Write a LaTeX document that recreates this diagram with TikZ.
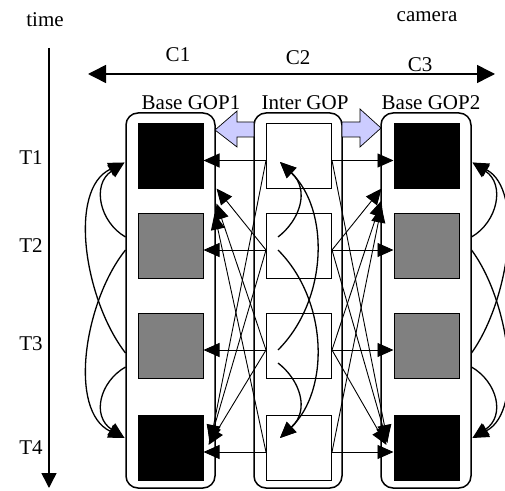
\documentclass[tikz,border=0pt]{standalone}
\usepackage{fontspec}
\setmainfont{Liberation Serif}
\usetikzlibrary{arrows.meta,calc,positioning}
\definecolor{flowblue}{RGB}{204,204,255}

\begin{document}
\begin{tikzpicture}[x=1pt,y=1pt,>={Triangle[length=16pt,width=14pt]},
  every node/.style={font=\fontsize{21}{24}\selectfont},
  gop/.style={draw,line width=1.5pt,rounded corners=12pt,minimum height=375pt,inner sep=0pt},
  keyframe/.style={draw,line width=1pt,fill=black,minimum size=65pt,inner sep=0pt},
  midframe/.style={keyframe,fill=gray},
  interframe/.style={keyframe,fill=white},
  pred/.style={->,line width=0.9pt},
  refcurve/.style={->,line width=1.3pt},
  gopflow/.style={draw=black,line width=0.7pt,fill=flowblue}]
  \useasboundingbox (0,0) rectangle (505,490);
%%
  % Node: axes
  \node (timelbl) at (45,470) {time};
  \node (cameralbl) at (427,473) {camera};
  \coordinate (timetop) at (49,442);
  \coordinate (timeend) at (49,2);
  \coordinate (camleft) at (88,416);
  \coordinate (camright) at (495,416);
  \node (c1lbl) at (178,435) {C1};
  \node (c2lbl) at (298,432) {C2};
  \node (c3lbl) at (420,425) {C3};
  \node (t1lbl) at (31,332) {T1};
  \node (t2lbl) at (31,244) {T2};
  \node (t3lbl) at (31,146) {T3};
  \node (t4lbl) at (31,42) {T4};
  % Edge: timetop -> timeend
  \draw [line width=1.5pt,-{Triangle[length=15pt,width=15pt]}] (timetop) -- (timeend);
  % Edge: camleft <-> camright
  \draw [line width=1.5pt,{Triangle[length=18pt,width=18pt]}-{Triangle[length=18pt,width=18pt]}] (camleft) -- (camright);
  % Node: gopA
  \node [gop,minimum width=89pt] (gopA) at (170.5,189.5) {};
  \node (gopAlbl) at (191,387) {Base GOP1};
  % Node: gopM
  \node [gop,minimum width=88pt] (gopM) at (298,189.5) {};
  \node (gopMlbl) at (305,387) {Inter GOP};
  % Node: gopB
  \node [gop,minimum width=90pt] (gopB) at (426,189.5) {};
  \node (gopBlbl) at (431,387) {Base GOP2};
  % flow from inter GOP to both base GOPs
  \filldraw [gopflow] (254,368) -- (237,368) -- (237,379) -- (215,360) -- (237,343) -- (237,353) -- (254,353) -- cycle;
  \filldraw [gopflow] (342,368) -- (360,368) -- (360,381) -- (381,362) -- (360,343) -- (360,353) -- (342,353) -- cycle;
  % Node: frames of Base GOP1
  \node [keyframe] (l1) at (170.5,333.5) {};
  \node [midframe] (l2) at (170.5,244) {};
  \node [midframe] (l3) at (170.5,144) {};
  \node [keyframe] (l4) at (170.5,42) {};
  % Node: frames of Inter GOP
  \node [interframe] (m1) at (299,333.5) {};
  \node [interframe] (m2) at (299,244) {};
  \node [interframe] (m3) at (299,144) {};
  \node [interframe] (m4) at (299,42) {};
  % Node: frames of Base GOP2
  \node [keyframe] (r1) at (426.5,333.5) {};
  \node [midframe] (r2) at (426.5,244) {};
  \node [midframe] (r3) at (426.5,144) {};
  \node [keyframe] (r4) at (426.5,42) {};
  % Edge: m -> l, m -> r (same time)
  \draw [pred] ($(m1.west)+(0,-4)$) -- ($(l1.east)+(0,-4)$);
  \draw [pred] ($(m2.west)+(0,-4)$) -- ($(l2.east)+(0,-4)$);
  \draw [pred] ($(m3.west)+(0,-4)$) -- ($(l3.east)+(0,-4)$);
  \draw [pred] ($(m4.west)+(0,-4)$) -- ($(l4.east)+(0,-4)$);
  \draw [pred] ($(m1.east)+(0,-4)$) -- ($(r1.west)+(0,-4)$);
  \draw [pred] ($(m2.east)+(0,-4)$) -- ($(r2.west)+(0,-4)$);
  \draw [pred] ($(m3.east)+(0,-4)$) -- ($(r3.west)+(0,-4)$);
  \draw [pred] ($(m4.east)+(0,-4)$) -- ($(r4.west)+(0,-4)$);
  % Edge: m2, m3, m4 -> l1
  \draw [pred] ($(m2.west)+(0,-4)$) -- ($(l1.south east)+(13,1)$);
  \draw [pred] ($(m3.west)+(0,-4)$) -- ($(l1.south east)+(13,-14)$);
  \draw [pred] ($(m4.west)+(0,-4)$) -- ($(l1.south east)+(11,-24)$);
  % Edge: m1, m2, m3 -> l4
  \draw [pred] ($(m1.west)+(0,-4)$) -- ($(l4.east)+(7,7)$);
  \draw [pred] ($(m2.west)+(0,-4)$) -- ($(l4.east)+(6,5)$);
  \draw [pred] ($(m3.west)+(0,-4)$) -- ($(l4.east)+(5,3)$);
  % Edge: m2, m3, m4 -> r1
  \draw [pred] ($(m2.east)+(0,-4)$) -- ($(r1.south west)+(-12,1)$);
  \draw [pred] ($(m3.east)+(0,-4)$) -- ($(r1.south west)+(-12,-11)$);
  \draw [pred] ($(m4.east)+(0,-4)$) -- ($(r1.south west)+(-12,-17)$);
  % Edge: m1, m2, m3 -> r4
  \draw [pred] ($(m1.east)+(0,-4)$) -- ($(r4.west)+(-6,7)$);
  \draw [pred] ($(m2.east)+(0,-4)$) -- ($(r4.west)+(-6,5)$);
  \draw [pred] ($(m3.east)+(0,-4)$) -- ($(r4.west)+(-7,3)$);
  % Edge: l2, l3 -> l1, l4
  \draw [refcurve] ($(l2.west)+(-12,9)$) .. controls +(-26,15) and +(-33,-22) .. ($(l1.west)+(-13,-6)$);
  \draw [refcurve] ($(l3.west)+(-12,-7)$) .. controls +(-41,53) and +(-57,-27) .. ($(l1.west)+(-13,-6)$);
  \draw [refcurve] ($(l2.west)+(-12,-4)$) .. controls +(-41,-51) and +(-57,27) .. ($(l4.west)+(-13,10)$);
  \draw [refcurve] ($(l3.west)+(-12,-21)$) .. controls +(-26,-15) and +(-33,22) .. ($(l4.west)+(-13,10)$);
  % Edge: m2, m3 -> m1, m4
  \draw [refcurve] ($(m2.center)+(-21,9)$) .. controls +(22,17) and +(30,-28) .. ($(m1.center)+(-19,-5.5)$);
  \draw [refcurve] ($(m3.center)+(-21,-4)$) .. controls +(50,50) and +(50,-48) .. ($(m1.center)+(-19,-5.5)$);
  \draw [refcurve] ($(m2.center)+(-21,-4)$) .. controls +(50,-50) and +(50,48) .. ($(m4.center)+(-19,10)$);
  \draw [refcurve] ($(m3.center)+(-21,-17)$) .. controls +(22,-17) and +(30,28) .. ($(m4.center)+(-19,10)$);
  % Edge: r2, r3 -> r1, r4
  \draw [refcurve] ($(r2.east)+(12,9)$) .. controls +(26,15) and +(33,-22) .. ($(r1.east)+(13,-6)$);
  \draw [refcurve] ($(r3.east)+(12,-7)$) .. controls +(38,53) and +(52,-27) .. ($(r1.east)+(13,-6)$);
  \draw [refcurve] ($(r2.east)+(12,-4)$) .. controls +(38,-51) and +(52,27) .. ($(r4.east)+(13,10)$);
  \draw [refcurve] ($(r3.east)+(12,-21)$) .. controls +(26,-15) and +(33,22) .. ($(r4.east)+(13,10)$);
%
\end{tikzpicture}
\end{document}
